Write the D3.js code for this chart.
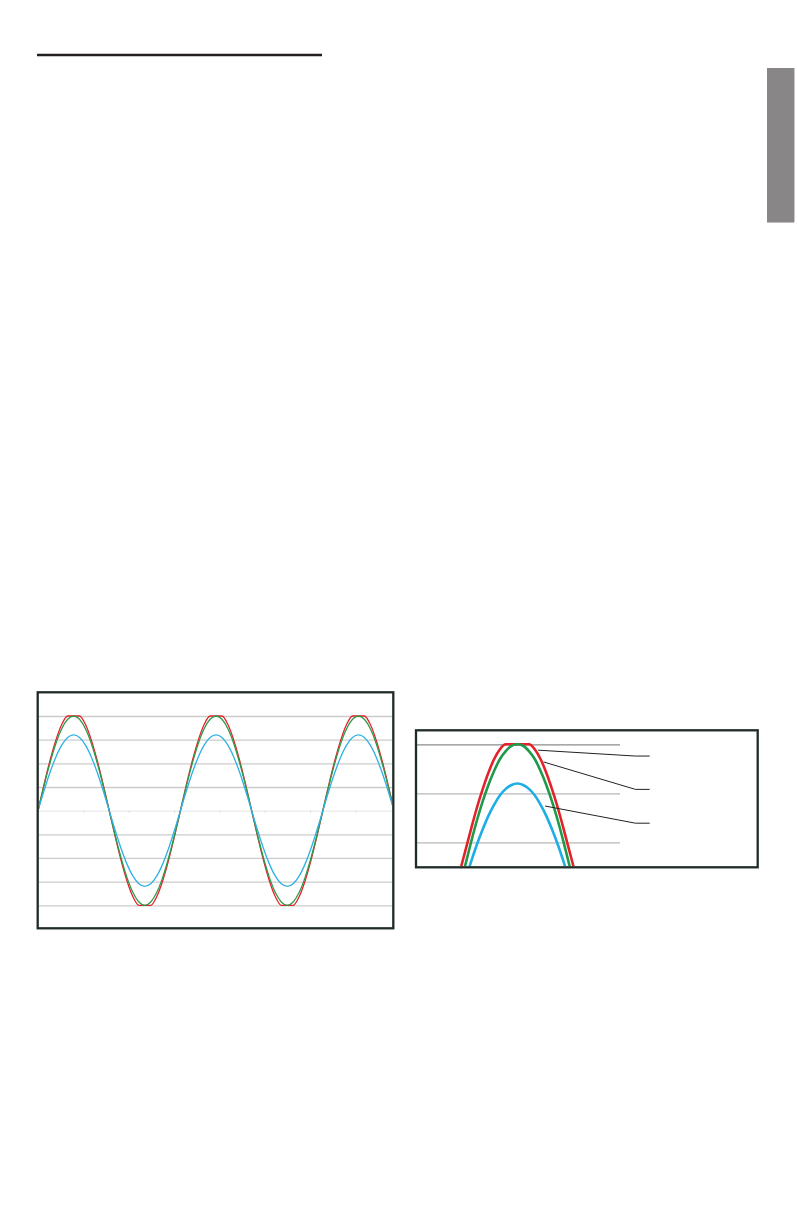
<!DOCTYPE html>
<html><head><meta charset="utf-8">
<script src="https://cdn.jsdelivr.net/npm/d3@7"></script>
<style>html,body{margin:0;padding:0;background:#fff}svg{display:block}</style>
</head><body>
<svg id="c" width="797" height="1229"></svg>
<script>
// ---------- DATA ----------
// Left chart: phase in degrees, three waveforms
const phaseL = [0,15,30,45,60,75,90,105,120,135,150,165,180,195,210,225,240,255,270,285,300,315,330,345,360,375,390,405,420,435,450,465,480,495,510,525,540,555,570,585,600,615,630,645,660,675,690,705,720,735,750,765,780,795,810,825,840,855,870,885,900];
const greenL = [0,1.04,2.00,2.83,3.46,3.86,4.00,3.86,3.46,2.83,2.00,1.04,0,-1.04,-2.00,-2.83,-3.46,-3.86,-4.00,-3.86,-3.46,-2.83,-2.00,-1.04,
                0,1.04,2.00,2.83,3.46,3.86,4.00,3.86,3.46,2.83,2.00,1.04,0,-1.04,-2.00,-2.83,-3.46,-3.86,-4.00,-3.86,-3.46,-2.83,-2.00,-1.04,
                0,1.04,2.00,2.83,3.46,3.86,4.00,3.86,3.46,2.83,2.00,1.04,0];
const redL = [0,1.09,2.10,2.97,3.64,4.00,4.00,4.00,3.64,2.97,2.10,1.09,0,-1.09,-2.10,-2.97,-3.64,-4.00,-4.00,-4.00,-3.64,-2.97,-2.10,-1.09,
              0,1.09,2.10,2.97,3.64,4.00,4.00,4.00,3.64,2.97,2.10,1.09,0,-1.09,-2.10,-2.97,-3.64,-4.00,-4.00,-4.00,-3.64,-2.97,-2.10,-1.09,
              0,1.09,2.10,2.97,3.64,4.00,4.00,4.00,3.64,2.97,2.10,1.09,0];
const blueL = [0,0.83,1.60,2.26,2.77,3.09,3.20,3.09,2.77,2.26,1.60,0.83,0,-0.83,-1.60,-2.26,-2.77,-3.09,-3.20,-3.09,-2.77,-2.26,-1.60,-0.83,
               0,0.83,1.60,2.26,2.77,3.09,3.20,3.09,2.77,2.26,1.60,0.83,0,-0.83,-1.60,-2.26,-2.77,-3.09,-3.20,-3.09,-2.77,-2.26,-1.60,-0.83,
               0,0.83,1.60,2.26,2.77,3.09,3.20,3.09,2.77,2.26,1.60,0.83,0];
const gridL = [4,3,2,1,-1,-2,-3,-4];
const xTicksL = [114.6,229.2,343.8,458.4,573.0,687.5,802.1];
const xDomainL = [0, 894.8];
const yDomainL = [-4, 4];

// Right chart: detail of one peak
const angleR = [0,7.5,15,22.5,30,37.5,45,52.5,60,67.5,75,82.5,90,97.5,105,112.5,120,127.5,135,142.5,150,157.5,165,172.5,180];
const redR   = [0,0.70,1.35,1.82,2.27,2.70,3.08,3.42,3.70,3.90,4.00,4.00,4.00,4.00,4.00,3.90,3.70,3.42,3.08,2.70,2.27,1.82,1.35,0.70,0];
const greenR = [0,0.52,1.04,1.53,2.00,2.44,2.83,3.17,3.46,3.70,3.86,3.97,4.00,3.97,3.86,3.70,3.46,3.17,2.83,2.44,2.00,1.53,1.04,0.52,0];
const blueR  = [0,0.42,0.83,1.22,1.60,1.95,2.26,2.54,2.77,2.96,3.09,3.17,3.20,3.17,3.09,2.96,2.77,2.54,2.26,1.95,1.60,1.22,0.83,0.42,0];
const gridR = [4,3,2];
const xDomainR = [-40, 223];
const yDomainR = [2, 4];
// leader lines (angle, value): start on curve, bend, end
const leaderStart = [[117,3.88],[124,3.64],[126,2.74]];
const leaderBend  = [[243,3.76],[243,3.08],[243,2.39]];
const leaderEnd   = [[261.5,3.76],[261.5,3.08],[261.5,2.39]];

// ---------- LAYOUT / STYLE ----------
const C = {red:"#e4222a", green:"#2f9a4c", blue:"#2fb0e4", frame:"#1f2b27"};
const svg = d3.select("#c");
svg.append("rect").attr("width",797).attr("height",1229).attr("fill","#fff");

// top rule
svg.append("line").attr("x1",37).attr("x2",322).attr("y1",55).attr("y2",55)
  .attr("stroke","#231f20").attr("stroke-width",2.4);
// side tab
svg.append("rect").attr("x",767).attr("y",68).attr("width",27).attr("height",154).attr("fill","#888686");
svg.append("line").attr("x1",794.5).attr("x2",794.5).attr("y1",68).attr("y2",222).attr("stroke","#c9c7c7").attr("stroke-width",1);
svg.append("line").attr("x1",767).attr("x2",794).attr("y1",222.5).attr("y2",222.5).attr("stroke","#bdbbbb").attr("stroke-width",1);

// ---------- LEFT CHART ----------
const PL = {l:38.8, r:392, t:693.5, b:927};
const xL = d3.scaleLinear().domain(xDomainL).range([38, 392]);
const yL = d3.scaleLinear().domain(yDomainL).range([905.3, 716]);
const gL = svg.append("g");
svg.append("clipPath").attr("id","clipL").append("rect")
  .attr("x",PL.l).attr("y",PL.t).attr("width",PL.r-PL.l).attr("height",PL.b-PL.t);

const gridAxisL = d3.axisRight(yL).tickValues(gridL).tickSize(PL.r-PL.l).tickFormat("");
const ga = gL.append("g").attr("transform",`translate(${PL.l},0)`).call(gridAxisL);
ga.select(".domain").remove();
ga.selectAll("line").attr("stroke","#cccccc").attr("stroke-width",1.3);

const zeroAxis = d3.axisBottom(xL).tickValues(xTicksL).tickSize(2).tickSizeOuter(0).tickFormat("");
const za = gL.append("g").attr("transform",`translate(0,${yL(0)})`).call(zeroAxis);
za.select(".domain").attr("stroke","#e3e3e3").attr("stroke-width",1)
  .attr("d",`M${PL.l},0.5H${PL.r}`);
za.selectAll("line").attr("stroke","#d8d8d8").attr("stroke-width",1);

const lineL = vals => d3.line().curve(d3.curveMonotoneX)
  .x((d,i)=>xL(phaseL[i])).y(d=>yL(d))(vals);
const curvesL = gL.append("g").attr("clip-path","url(#clipL)");
[[redL,C.red],[greenL,C.green],[blueL,C.blue]].forEach(([v,c])=>{
  curvesL.append("path").attr("d",lineL(v)).attr("fill","none").attr("stroke",c).attr("stroke-width",1.3);
});
gL.append("rect").attr("x",37.7).attr("y",692.3).attr("width",355.6).attr("height",236)
  .attr("fill","none").attr("stroke",C.frame).attr("stroke-width",2.3);

// ---------- RIGHT CHART ----------
const PR = {l:417, r:757, t:731.5, b:866.2, gr:620};
const xR = d3.scaleLinear().domain(xDomainR).range([PR.l, PR.gr]);
const yR = d3.scaleLinear().domain(yDomainR).range([842.3, 744.3]);
const gR = svg.append("g");
svg.append("clipPath").attr("id","clipR").append("rect")
  .attr("x",PR.l).attr("y",PR.t).attr("width",PR.r-PR.l).attr("height",PR.b-PR.t);

const gridAxisR = d3.axisRight(yR).tickValues(gridR).tickSize(PR.gr-PR.l).tickFormat("");
const gb = gR.append("g").attr("transform",`translate(${PR.l},0)`).call(gridAxisR);
gb.select(".domain").remove();
gb.selectAll("g.tick line").attr("stroke",d=>d===4?"#8c8c8c":"#b8b8b8").attr("stroke-width",1.2);

const lineR = vals => d3.line().curve(d3.curveMonotoneX)
  .x((d,i)=>xR(angleR[i])).y(d=>yR(d))(vals);
const curvesR = gR.append("g").attr("clip-path","url(#clipR)");
[[redR,C.red],[greenR,"#1f9a4b"],[blueR,"#1eaee6"]].forEach(([v,c])=>{
  curvesR.append("path").attr("d",lineR(v)).attr("fill","none").attr("stroke",c).attr("stroke-width",2.6);
});
leaderStart.forEach((s,i)=>{
  const pts = [s, leaderBend[i], leaderEnd[i]];
  gR.append("path").attr("d", d3.line().x(p=>xR(p[0])).y(p=>yR(p[1]))(pts))
    .attr("fill","none").attr("stroke","#222").attr("stroke-width",1);
});
gR.append("rect").attr("x",416).attr("y",730.3).attr("width",341.7).attr("height",137)
  .attr("fill","none").attr("stroke",C.frame).attr("stroke-width",2.3);
</script>
</body></html>
